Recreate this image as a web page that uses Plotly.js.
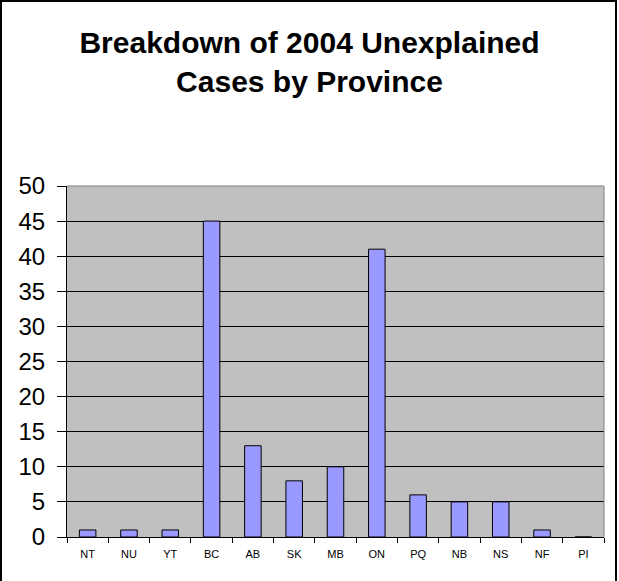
<!DOCTYPE html>
<html>
<head>
<meta charset="utf-8">
<script src="https://cdn.plot.ly/plotly-3.0.1.min.js"></script>
<style>
  html, body { margin: 0; padding: 0; background: #ffffff; }
  #chart { width: 619px; height: 581px; position: absolute; left: 0; top: 0; }
  #frame { position: absolute; left: 0; top: 0; width: 617px; height: 600px; box-sizing: border-box; border: 2px solid #000; pointer-events: none; }
</style>
</head>
<body>
<div id="chart"></div>
<div id="frame"></div>
<script>
const provinces = ["NT", "NU", "YT", "BC", "AB", "SK", "MB", "ON", "PQ", "NB", "NS", "NF", "PI"];
const cases = [1, 1, 1, 45, 13, 8, 10, 41, 6, 5, 5, 1, 0];
const yTicks = [0, 5, 10, 15, 20, 25, 30, 35, 40, 45, 50];
const chartTitle = "Breakdown of 2004 Unexplained<br>Cases by Province";

const FONT = "Liberation Sans, Arial, sans-serif";

const trace = {
  type: "bar",
  x: provinces,
  y: cases,
  width: 0.4,
  marker: { color: "#9999ff", line: { color: "#000000", width: 1 } },
  hoverinfo: "x+y"
};

const layout = {
  width: 619,
  height: 581,
  margin: { l: 67, r: 15, t: 186, b: 44, pad: 0 },
  paper_bgcolor: "#ffffff",
  plot_bgcolor: "#c0c0c0",
  showlegend: false,
  font: { family: FONT, color: "#000000" },
  title: {
    text: chartTitle,
    font: { family: FONT, size: 30, color: "#000000", weight: "bold" },
    x: 0.5, xanchor: "center",
    y: 0.908, yanchor: "top", yref: "container"
  },
  xaxis: {
    type: "category",
    categoryorder: "array",
    categoryarray: provinces,
    range: [-0.5, provinces.length - 0.5],
    showgrid: false,
    zeroline: false,
    showline: true, linecolor: "#000000", linewidth: 1,
    ticks: "outside", tickson: "boundaries", ticklen: 5, tickcolor: "#000000", tickwidth: 1,
    tickfont: { family: FONT, size: 11, color: "#000000" },
    ticklabelstandoff: 7,
    fixedrange: true
  },
  yaxis: {
    range: [0, 50],
    tickvals: yTicks,
    ticktext: yTicks.map(String),
    showgrid: true, gridcolor: "#000000", gridwidth: 1,
    zeroline: false,
    showline: true, linecolor: "#000000", linewidth: 1,
    ticks: "outside", ticklen: 9, tickcolor: "#000000", tickwidth: 1,
    tickfont: { family: FONT, size: 24, color: "#000000" },
    ticklabelstandoff: 7,
    fixedrange: true
  },
  shapes: [
    { type: "line", xref: "paper", yref: "paper", x0: 0, x1: 1, y0: 1, y1: 1, line: { color: "#808080", width: 1 }, layer: "above" },
    { type: "line", xref: "paper", yref: "paper", x0: 1, x1: 1, y0: 0, y1: 1, line: { color: "#808080", width: 1 }, layer: "above" }
  ],
  bargap: 0.6
};

Plotly.newPlot("chart", [trace], layout, { displayModeBar: false, staticPlot: true });
</script>
</body>
</html>
